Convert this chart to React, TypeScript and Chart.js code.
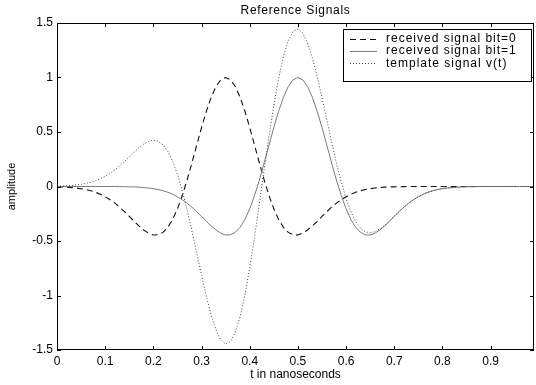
import React, { useEffect, useRef } from 'react';
import { Chart, registerables } from 'chart.js';

Chart.register(...registerables);

const FONT = "'Liberation Sans', Arial, Helvetica, sans-serif";

const titleText = 'Reference Signals';
const xAxisTitle = 't in nanoseconds';
const yAxisTitle = 'amplitude';
const seriesLabels = ['received signal bit=0', 'received signal bit=1', 'template signal v(t)'];

const tValues = [
  0, 0.01, 0.02, 0.03, 0.04, 0.05, 0.06, 0.07, 0.08, 0.09,
  0.1, 0.11, 0.12, 0.13, 0.14, 0.15, 0.16, 0.17, 0.18, 0.19,
  0.2, 0.21, 0.22, 0.23, 0.24, 0.25, 0.26, 0.27, 0.28, 0.29,
  0.3, 0.31, 0.32, 0.33, 0.34, 0.35, 0.36, 0.37, 0.38, 0.39,
  0.4, 0.41, 0.42, 0.43, 0.44, 0.45, 0.46, 0.47, 0.48, 0.49,
  0.5, 0.51, 0.52, 0.53, 0.54, 0.55, 0.56, 0.57, 0.58, 0.59,
  0.6, 0.61, 0.62, 0.63, 0.64, 0.65, 0.66, 0.67, 0.68, 0.69,
  0.7, 0.71, 0.72, 0.73, 0.74, 0.75, 0.76, 0.77, 0.78, 0.79,
  0.8, 0.81, 0.82, 0.83, 0.84, 0.85, 0.86, 0.87, 0.88, 0.89,
  0.9, 0.91, 0.92, 0.93, 0.94, 0.95, 0.96, 0.97, 0.98, 0.99,
];

const bit0Values = [
  -0.003, -0.004, -0.006, -0.010, -0.014, -0.020, -0.028, -0.039, -0.053, -0.071,
  -0.094, -0.121, -0.153, -0.190, -0.231, -0.274, -0.319, -0.362, -0.399, -0.428,
  -0.445, -0.443, -0.421, -0.375, -0.303, -0.205, -0.083, 0.059, 0.216, 0.380,
  0.541, 0.690, 0.819, 0.917, 0.979, 1.000, 0.979, 0.917, 0.819, 0.690,
  0.541, 0.380, 0.216, 0.059, -0.083, -0.205, -0.303, -0.375, -0.421, -0.443,
  -0.445, -0.428, -0.399, -0.362, -0.319, -0.274, -0.231, -0.190, -0.153, -0.121,
  -0.094, -0.071, -0.053, -0.039, -0.028, -0.020, -0.014, -0.010, -0.006, -0.004,
  -0.003, -0.002, -0.001, 0, 0, 0, 0, 0, 0, 0,
  0, 0, 0, 0, 0, 0, 0, 0, 0, 0,
  0, 0, 0, 0, 0, 0, 0, 0, 0, 0,
];

const bit1Values = [
  0, 0, 0, 0, 0, 0, 0, 0, 0, 0,
  0, 0, 0, -0.001, -0.002, -0.003, -0.004, -0.006, -0.010, -0.014,
  -0.020, -0.028, -0.039, -0.053, -0.071, -0.094, -0.121, -0.153, -0.190, -0.231,
  -0.274, -0.319, -0.362, -0.399, -0.428, -0.445, -0.443, -0.421, -0.375, -0.303,
  -0.205, -0.083, 0.059, 0.216, 0.380, 0.541, 0.690, 0.819, 0.917, 0.979,
  1.000, 0.979, 0.917, 0.819, 0.690, 0.541, 0.380, 0.216, 0.059, -0.083,
  -0.205, -0.303, -0.375, -0.421, -0.443, -0.445, -0.428, -0.399, -0.362, -0.319,
  -0.274, -0.231, -0.190, -0.153, -0.121, -0.094, -0.071, -0.053, -0.039, -0.028,
  -0.020, -0.014, -0.010, -0.006, -0.004, -0.003, -0.002, -0.001, 0, 0,
  0, 0, 0, 0, 0, 0, 0, 0, 0, 0,
];

const templateValues = [
  0.003, 0.004, 0.006, 0.010, 0.014, 0.020, 0.028, 0.039, 0.053, 0.071,
  0.094, 0.121, 0.153, 0.189, 0.229, 0.271, 0.315, 0.356, 0.389, 0.414,
  0.425, 0.415, 0.382, 0.322, 0.232, 0.111, -0.038, -0.212, -0.406, -0.611,
  -0.815, -1.009, -1.181, -1.316, -1.407, -1.445, -1.422, -1.338, -1.194, -0.993,
  -0.746, -0.463, -0.157, 0.157, 0.463, 0.746, 0.993, 1.194, 1.338, 1.422,
  1.445, 1.407, 1.316, 1.181, 1.009, 0.815, 0.611, 0.406, 0.212, 0.038,
  -0.111, -0.232, -0.322, -0.382, -0.415, -0.425, -0.414, -0.389, -0.356, -0.315,
  -0.271, -0.229, -0.189, -0.153, -0.121, -0.094, -0.071, -0.053, -0.039, -0.028,
  -0.020, -0.014, -0.010, -0.006, -0.004, -0.003, -0.002, -0.001, 0, 0,
  0, 0, 0, 0, 0, 0, 0, 0, 0, 0,
];

const xTickValues = [0, 0.1, 0.2, 0.3, 0.4, 0.5, 0.6, 0.7, 0.8, 0.9];
const yTickValues = [-1.5, -1, -0.5, 0, 0.5, 1, 1.5];

const seriesStyles = [
  { color: '#111111', dash: [6, 4], width: 1.1 },
  { color: '#7a7a7a', dash: [], width: 1 },
  { color: '#444444', dash: [1, 2], width: 1 },
];

const framePlugin = {
  id: 'matlabFrame',
  afterDatasetsDraw(chart: any) {
    const { ctx, chartArea: a, scales } = chart;
    const xs = scales.x;
    const ys = scales.y;
    ctx.save();
    ctx.strokeStyle = '#000';
    ctx.lineWidth = 1;
    ctx.setLineDash([]);
    ctx.strokeRect(Math.round(a.left) + 0.5, Math.round(a.top) + 0.5, Math.round(a.right - a.left) - 1, Math.round(a.bottom - a.top) - 1);
    const tl = 4;
    ctx.beginPath();
    xTickValues.forEach((v) => {
      const px = Math.round(xs.getPixelForValue(v)) + 0.5;
      ctx.moveTo(px, a.bottom);
      ctx.lineTo(px, a.bottom - tl);
      ctx.moveTo(px, a.top);
      ctx.lineTo(px, a.top + tl);
    });
    yTickValues.forEach((v) => {
      const py = Math.round(ys.getPixelForValue(v)) + 0.5;
      ctx.moveTo(a.left, py);
      ctx.lineTo(a.left + tl, py);
      ctx.moveTo(a.right, py);
      ctx.lineTo(a.right - tl, py);
    });
    ctx.stroke();
    ctx.restore();
  },
};

const textPlugin = {
  id: 'titleAndLegend',
  afterDraw(chart: any) {
    const { ctx, chartArea: a } = chart;
    ctx.save();
    // title
    ctx.fillStyle = '#000';
    ctx.font = `12px ${FONT}`;
    (ctx as any).letterSpacing = '0.7px';
    ctx.textAlign = 'center';
    ctx.textBaseline = 'middle';
    ctx.fillText(titleText, (a.left + a.right) / 2, 11);

    // legend box
    const bx = Math.round(a.right) - 191;
    const by = Math.round(a.top) + 6;
    const bw = 188;
    const bh = 52;
    ctx.fillStyle = '#fff';
    ctx.fillRect(bx, by, bw, bh);
    ctx.strokeStyle = '#000';
    ctx.lineWidth = 1;
    ctx.setLineDash([]);
    ctx.strokeRect(bx + 0.5, by + 0.5, bw, bh);
    (ctx as any).letterSpacing = '1px';
    ctx.font = `12px ${FONT}`;
    ctx.textAlign = 'left';
    ctx.textBaseline = 'middle';
    seriesLabels.forEach((label, i) => {
      const yy = by + 9.5 + i * 12.4;
      const st = seriesStyles[i];
      ctx.strokeStyle = st.color;
      ctx.lineWidth = st.width;
      ctx.setLineDash(st.dash);
      ctx.beginPath();
      ctx.moveTo(bx + 7, Math.round(yy) + 0.5);
      ctx.lineTo(bx + 34, Math.round(yy) + 0.5);
      ctx.stroke();
      ctx.setLineDash([]);
      ctx.fillStyle = '#000';
      ctx.fillText(label, bx + 43, yy);
    });
    ctx.restore();
  },
};

export default function App() {
  const canvasRef = useRef<HTMLCanvasElement | null>(null);

  useEffect(() => {
    const canvas = canvasRef.current;
    if (!canvas) return;
    const seriesValues = [bit0Values, bit1Values, templateValues];
    const chart = new Chart(canvas, {
      type: 'line',
      data: {
        datasets: seriesValues.map((vals, i) => ({
          label: seriesLabels[i],
          data: tValues.map((t, j) => ({ x: t, y: vals[j] })),
          borderColor: seriesStyles[i].color,
          borderWidth: seriesStyles[i].width,
          borderDash: seriesStyles[i].dash,
          pointRadius: 0,
          fill: false,
          tension: 0,
          order: 3 - i,
        })),
      },
      options: {
        responsive: false,
        animation: false,
        events: [],
        layout: { padding: { top: 23, right: 2, left: 0, bottom: 0 } },
        plugins: {
          legend: { display: false },
          title: { display: false },
          tooltip: { enabled: false },
        },
        scales: {
          x: {
            type: 'linear',
            min: 0,
            max: 0.99,
            grid: { display: false, drawTicks: false },
            border: { display: false },
            afterFit: (s: any) => { s.height = 35; },
            afterBuildTicks: (s: any) => { s.ticks = xTickValues.map((v) => ({ value: v })); },
            ticks: {
              color: '#000',
              padding: 4,
              font: { family: FONT, size: 12 },
              maxRotation: 0,
              autoSkip: false,
              callback: (v: any) => String(Math.round(Number(v) * 10) / 10),
            },
            title: {
              display: true,
              text: xAxisTitle,
              color: '#000',
              font: { family: FONT, size: 12 },
              padding: { top: 0, bottom: 3 },
            },
          },
          y: {
            type: 'linear',
            min: -1.5,
            max: 1.5,
            grid: { display: false, drawTicks: false },
            border: { display: false },
            afterFit: (s: any) => { s.width = 57; },
            afterBuildTicks: (s: any) => { s.ticks = yTickValues.map((v) => ({ value: v })); },
            ticks: {
              color: '#000',
              padding: 4,
              font: { family: FONT, size: 12 },
              autoSkip: false,
              callback: (v: any) => String(v),
            },
            title: {
              display: true,
              text: yAxisTitle,
              color: '#000',
              font: { family: FONT, size: 11 },
              padding: { top: 5, bottom: 0 },
            },
          },
        },
      },
      plugins: [framePlugin, textPlugin],
    });
    return () => chart.destroy();
  }, []);

  return (
    <div style={{ position: 'absolute', left: 0, top: 0, width: 536, height: 385, background: '#fff' }}>
      <canvas ref={canvasRef} width={536} height={385} />
    </div>
  );
}
